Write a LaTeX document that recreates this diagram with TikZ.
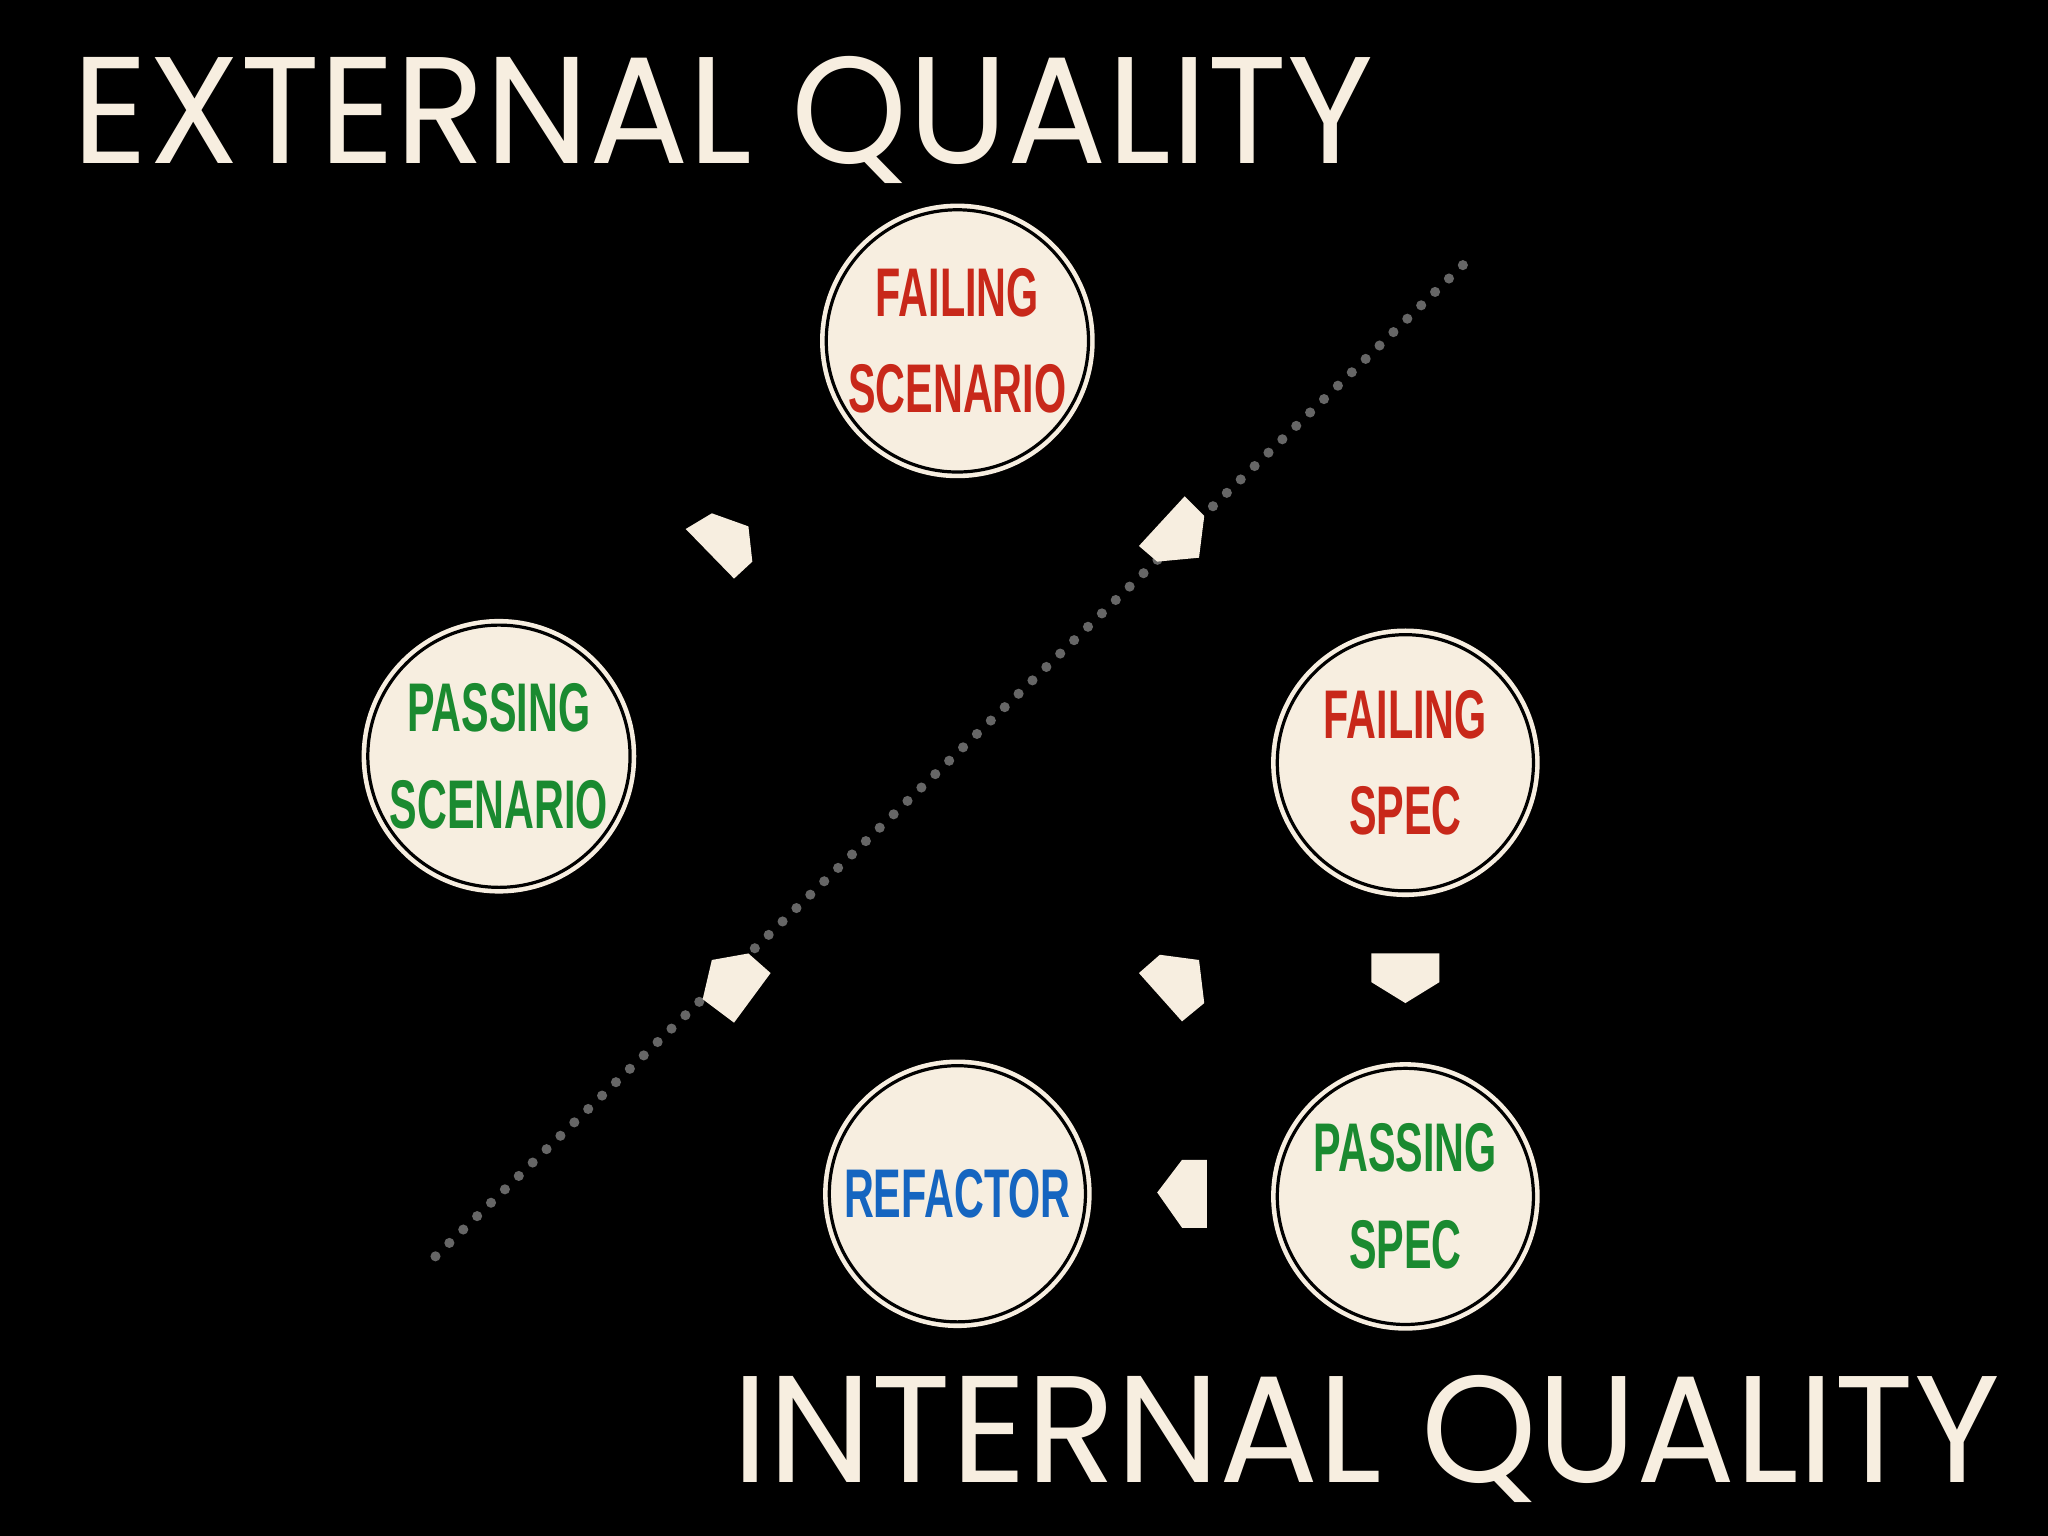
\documentclass[tikz,border=0pt]{standalone}
\usepackage{fontspec}
\setmainfont{Liberation Sans}
\newfontfamily\titlefont{Poppins}
\usetikzlibrary{calc}
\definecolor{cream}{HTML}{F7EEE0}
\definecolor{fred}{HTML}{C8281A}
\definecolor{pgreen}{HTML}{1A8A30}
\definecolor{rblue}{HTML}{1565C0}
\definecolor{dotgray}{HTML}{666666}
\tikzset{
  stage/.style={circle,minimum size=1.96cm,inner sep=0pt,fill=cream,draw=cream,double=black,double distance=0.7pt,line width=1pt,
    font=\bfseries\fontsize{15}{19}\selectfont,align=center},
  arrowshape/.style={fill=cream,draw=none},
  titletext/.style={text=cream,inner sep=0pt,anchor=base west}
}
\newcommand{\narrow}[1]{\scalebox{0.6}[1]{#1}}
\begin{document}
\begin{tikzpicture}[x=0.01cm,y=-0.01cm]
\fill[black] (0,0) rectangle (1568,1176);
\useasboundingbox (0,0) rectangle (1568,1176);
% titles
\node[titletext] (ext) at (55,125) {\resizebox{9.95cm}{0.82cm}{\titlefont\fontseries{l}\selectfont EXTERNAL QUALITY}};
\node[titletext] (int) at (560,1135) {\resizebox{9.7cm}{0.82cm}{\titlefont\fontseries{l}\selectfont INTERNAL QUALITY}};
% dotted line
\coordinate (d1) at (1120,203);
\coordinate (d2) at (325,970);
\draw[dotgray,line width=2.2pt,line cap=round,dash pattern=on 0pt off 4.2pt] (d1) -- (d2);
% stages
\node[stage,text=fred] (fsc) at (733,261) {\narrow{FAILING}\\[2pt]\narrow{SCENARIO}};
\node[stage,text=pgreen] (psc) at (382,579) {\narrow{PASSING}\\[2pt]\narrow{SCENARIO}};
\node[stage,text=fred] (fsp) at (1076,584) {\narrow{FAILING}\\[2pt]\narrow{SPEC}};
\node[stage,text=pgreen] (psp) at (1076,916) {\narrow{PASSING}\\[2pt]\narrow{SPEC}};
\node[stage,text=rblue] (ref) at (733,914) {\narrow{REFACTOR}};
% arrow heads
\fill[arrowshape] (525,405) -- (545,393) -- (573,403) -- (576,430) -- (562,443) -- cycle;
\fill[arrowshape] (872,418) -- (907,380) -- (922,395) -- (918,427) -- (886,430) -- cycle;
\fill[arrowshape] (538,765) -- (545,735) -- (573,730) -- (590,745) -- (562,783) -- cycle;
\fill[arrowshape] (872,745) -- (888,731) -- (918,735) -- (922,768) -- (905,782) -- cycle;
\fill[arrowshape] (1050,730) -- (1102,730) -- (1102,752) -- (1076,768) -- (1050,752) -- cycle;
\fill[arrowshape] (886,913) -- (905,888) -- (924,888) -- (924,940) -- (905,940) -- cycle;
\end{tikzpicture}
\end{document}
